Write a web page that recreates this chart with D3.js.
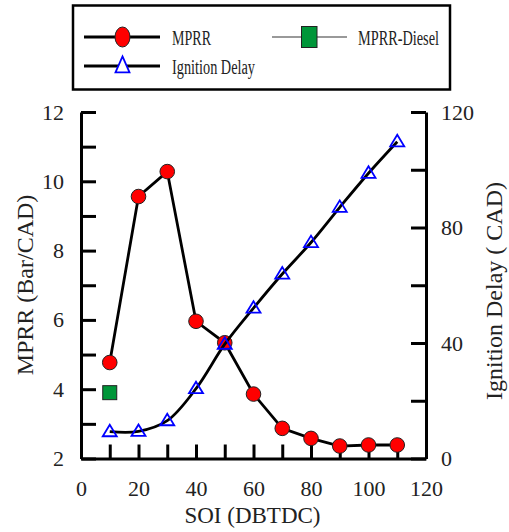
<!DOCTYPE html>
<html>
<head>
<meta charset="utf-8">
<script src="https://cdn.jsdelivr.net/npm/d3@7/dist/d3.min.js"></script>
<style>
  html, body { margin: 0; padding: 0; background: #fff; }
  svg { display: block; }
  text { font-family: "Liberation Serif", "Times New Roman", serif; fill: #222; }
</style>
</head>
<body>
<svg id="chart" width="509" height="532"></svg>
<script>
// Start of injection (degrees before TDC)
const soi = [10, 20, 30, 40, 50, 60, 70, 80, 90, 100, 110];
// Maximum pressure rise rate, bar/CAD
const mprr = [4.77, 9.56, 10.28, 5.96, 5.34, 3.86, 2.87, 2.58, 2.36, 2.39, 2.39];
// Ignition delay, CAD
const ignitionDelay = [9.3, 9.4, 13.1, 24.2, 39.6, 52.1, 63.9, 74.8, 87.0, 98.8, 109.7];
// Diesel reference point
const dieselSoi = [10];
const dieselMprr = [3.9];

const xTicks = [0, 10, 20, 30, 40, 50, 60, 70, 80, 90, 100, 110, 120];
const leftTicks = [2, 3, 4, 5, 6, 7, 8, 9, 10, 11, 12];
const rightTicks = [0, 20, 40, 60, 80, 100, 120];

const svg = d3.select("#chart");

const x = d3.scaleLinear().domain([0, 120]).range([81, 426]);
const yL = d3.scaleLinear().domain([2, 12]).range([458.5, 112]);
const yR = d3.scaleLinear().domain([0, 120]).range([458.5, 112]);

function styleAxis(g) {
  g.select(".domain").attr("stroke", "#000").attr("stroke-width", 3);
  g.selectAll(".tick line").attr("stroke", "#000").attr("stroke-width", 3);
  g.selectAll(".tick text")
    .style("font-family", '"Liberation Serif", "Times New Roman", serif')
    .style("font-size", "22px")
    .attr("fill", "#222");
}

// Bottom axis: ticks every 10 pointing inward, labels every 20
svg.append("g")
  .attr("transform", `translate(0,${yL.range()[0]})`)
  .call(d3.axisBottom(x).tickValues(xTicks).tickSizeInner(-14).tickSizeOuter(0)
    .tickPadding(22).tickFormat(d => d % 20 === 0 ? d : ""))
  .call(styleAxis);

// Left axis: MPRR
svg.append("g")
  .attr("transform", `translate(${x.range()[0]},0)`)
  .call(d3.axisLeft(yL).tickValues(leftTicks).tickSizeInner(-15).tickSizeOuter(0)
    .tickPadding(17).tickFormat(d => d % 2 === 0 ? d : ""))
  .call(styleAxis);

// Right axis: ignition delay
svg.append("g")
  .attr("transform", `translate(${x.range()[1]},0)`)
  .call(d3.axisRight(yR).tickValues(rightTicks).tickSizeInner(-15).tickSizeOuter(0)
    .tickPadding(15).tickFormat(d => d % 40 === 0 ? d : ""))
  .call(styleAxis);

// Axis titles
svg.append("text")
  .attr("x", 252.5).attr("y", 523)
  .attr("text-anchor", "middle")
  .style("font-size", "23px")
  .text("SOI (DBTDC)");

svg.append("text")
  .attr("transform", "translate(33,285) rotate(-90)")
  .attr("text-anchor", "middle")
  .style("font-size", "24px")
  .text("MPRR (Bar/CAD)");

svg.append("text")
  .attr("transform", "translate(502,291) rotate(-90)")
  .attr("text-anchor", "middle")
  .style("font-size", "24px")
  .text("Ignition Delay ( CAD)");

const mprrPts = soi.map((s, i) => [s, mprr[i]]);
const idPts = soi.map((s, i) => [s, ignitionDelay[i]]);

// MPRR series
svg.append("path")
  .datum(mprrPts)
  .attr("fill", "none").attr("stroke", "#000").attr("stroke-width", 2.8)
  .attr("d", d3.line().x(d => x(d[0])).y(d => yL(d[1])));

svg.append("g").selectAll("circle")
  .data(mprrPts).join("circle")
  .attr("cx", d => x(d[0])).attr("cy", d => yL(d[1])).attr("r", 7.3)
  .attr("fill", "#ff0000").attr("stroke", "#222").attr("stroke-width", 1);

// Ignition delay series
svg.append("path")
  .datum(idPts)
  .attr("fill", "none").attr("stroke", "#000").attr("stroke-width", 2.8)
  .attr("d", d3.line().curve(d3.curveCatmullRom).x(d => x(d[0])).y(d => yR(d[1])));

const tri = (cx, cy, w, h) =>
  `M${cx},${cy - h * 0.6}L${cx + w / 2},${cy + h * 0.4}L${cx - w / 2},${cy + h * 0.4}Z`;

svg.append("g").selectAll("path")
  .data(idPts).join("path")
  .attr("d", d => tri(x(d[0]), yR(d[1]), 14, 11.5))
  .attr("fill", "none").attr("stroke", "#0000ff").attr("stroke-width", 1.8);

// Diesel reference
svg.append("g").selectAll("rect")
  .data(dieselSoi.map((s, i) => [s, dieselMprr[i]])).join("rect")
  .attr("x", d => x(d[0]) - 7).attr("y", d => yL(d[1]) - 7)
  .attr("width", 14).attr("height", 14)
  .attr("fill", "#009639").attr("stroke", "#222").attr("stroke-width", 1);

// Legend
const legend = svg.append("g");
legend.append("rect")
  .attr("x", 73).attr("y", 5.5).attr("width", 377).attr("height", 84)
  .attr("fill", "#fff").attr("stroke", "#000").attr("stroke-width", 2.5);

legend.append("line").attr("x1", 84).attr("x2", 160).attr("y1", 37).attr("y2", 37)
  .attr("stroke", "#000").attr("stroke-width", 2.8);
legend.append("ellipse").attr("cx", 122.5).attr("cy", 37).attr("rx", 7.5).attr("ry", 10)
  .attr("fill", "#ff0000").attr("stroke", "#222").attr("stroke-width", 1);
legend.append("text").attr("x", 172).attr("y", 45)
  .attr("textLength", 39).attr("lengthAdjust", "spacingAndGlyphs")
  .style("font-size", "20px").text("MPRR");

legend.append("line").attr("x1", 272).attr("x2", 347).attr("y1", 37).attr("y2", 37)
  .attr("stroke", "#777").attr("stroke-width", 1.5);
legend.append("rect").attr("x", 301.5).attr("y", 26.5).attr("width", 15.5).attr("height", 21)
  .attr("fill", "#009639").attr("stroke", "#222").attr("stroke-width", 1);
legend.append("text").attr("x", 358).attr("y", 45)
  .attr("textLength", 81).attr("lengthAdjust", "spacingAndGlyphs")
  .style("font-size", "20px").text("MPRR-Diesel");

legend.append("line").attr("x1", 84).attr("x2", 160).attr("y1", 66).attr("y2", 66)
  .attr("stroke", "#000").attr("stroke-width", 2.8);
legend.append("path").attr("d", tri(122.5, 66, 14, 16))
  .attr("fill", "#fff").attr("stroke", "#0000ff").attr("stroke-width", 1.8);
legend.append("text").attr("x", 172).attr("y", 74)
  .attr("textLength", 83).attr("lengthAdjust", "spacingAndGlyphs")
  .style("font-size", "20px").text("Ignition Delay");
</script>
</body>
</html>
